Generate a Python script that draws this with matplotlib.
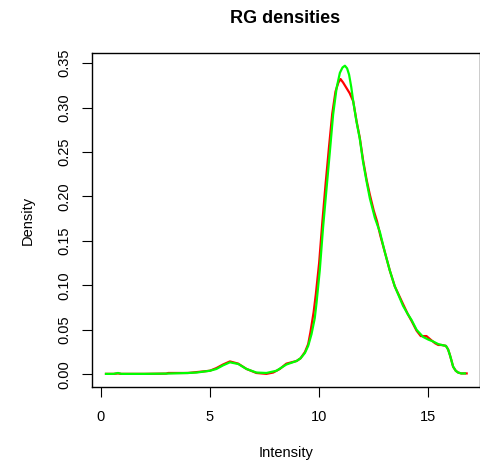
import matplotlib
matplotlib.use("Agg")
import matplotlib.pyplot as plt

plt.rcParams['font.family'] = ['Liberation Sans', 'DejaVu Sans']

# Green density (drawn on top)
green_x = [0.25, 0.6, 0.8, 0.95, 1.2, 2.0, 3.0, 4.0, 4.4, 5.0, 5.3, 5.6, 5.92, 6.3, 6.68,
           7.13, 7.59, 8.05, 8.5, 8.97, 9.15, 9.35, 9.5, 9.65, 9.8, 9.88, 10.03, 10.18,
           10.34, 10.49, 10.64, 10.8, 10.95, 11.07, 11.18, 11.28, 11.37, 11.47, 11.56,
           11.71, 11.86, 12.01, 12.17, 12.32, 12.55, 12.78, 13.0, 13.23, 13.46, 13.65,
           13.84, 14.05, 14.23, 14.46, 14.76, 15.0, 15.21, 15.45, 15.6, 15.8, 15.9,
           15.98, 16.06, 16.13, 16.25, 16.36, 16.5, 16.67]
green_y = [0.0005, 0.0005, 0.0015, 0.0005, 0.0005, 0.0005, 0.0008, 0.0015, 0.002, 0.004,
           0.006, 0.010, 0.0135, 0.0116, 0.006, 0.002, 0.0015, 0.004, 0.011, 0.015,
           0.018, 0.024, 0.032, 0.045, 0.063, 0.080, 0.117, 0.165, 0.209, 0.250, 0.292,
           0.322, 0.339, 0.345, 0.347, 0.344, 0.337, 0.323, 0.307, 0.284, 0.265, 0.239,
           0.217, 0.198, 0.176, 0.160, 0.138, 0.117, 0.099, 0.088, 0.077, 0.068, 0.061,
           0.050, 0.042, 0.039, 0.037, 0.034, 0.033, 0.032, 0.028, 0.022, 0.015, 0.0086,
           0.004, 0.002, 0.001, 0.001]

# Red density
red_x = [0.25, 0.6, 0.8, 0.95, 1.2, 2.0, 3.0, 3.1, 4.0, 4.4, 5.0, 5.3, 5.6, 5.92, 6.3,
         6.68, 7.13, 7.59, 7.9, 8.2, 8.5, 8.97, 9.15, 9.35, 9.5, 9.6, 9.75, 9.85, 10.0,
         10.15, 10.3, 10.45, 10.6, 10.75, 10.88, 10.98, 11.1, 11.25, 11.4, 11.56, 11.71,
         11.86, 12.01, 12.17, 12.32, 12.5, 12.65, 12.8, 13.0, 13.23, 13.46, 13.65, 13.84,
         14.05, 14.23, 14.46, 14.65, 14.91, 15.1, 15.3, 15.45, 15.6, 15.8, 15.9, 15.98,
         16.06, 16.13, 16.25, 16.36, 16.5, 16.75]
red_y = [0.0005, 0.0005, 0.001, 0.0005, 0.0005, 0.0005, 0.0008, 0.0015, 0.0015, 0.0025,
         0.004, 0.007, 0.011, 0.0145, 0.012, 0.006, 0.0015, 0.0005, 0.002, 0.006, 0.012,
         0.015, 0.018, 0.025, 0.034, 0.047, 0.070, 0.090, 0.125, 0.172, 0.215, 0.255,
         0.293, 0.318, 0.328, 0.332, 0.328, 0.322, 0.316, 0.307, 0.285, 0.266, 0.241,
         0.219, 0.202, 0.184, 0.172, 0.156, 0.138, 0.117, 0.099, 0.089, 0.079, 0.068,
         0.060, 0.049, 0.043, 0.043, 0.039, 0.035, 0.033, 0.033, 0.032, 0.028, 0.022,
         0.015, 0.0086, 0.004, 0.002, 0.001, 0.001]

x_ticks = [0, 5, 10, 15]
y_ticks = [0.00, 0.05, 0.10, 0.15, 0.20, 0.25, 0.30, 0.35]
y_ticklabels = ["0.00", "0.05", "0.10", "0.15", "0.20", "0.25", "0.30", "0.35"]

W, H = 481, 461
fig = plt.figure(figsize=(W / 100, H / 100), dpi=100)
L, R, T, B = 92, 480, 53, 386.5
ax = fig.add_axes([L / W, 1 - B / H, (R - L) / W, (B - T) / H])

ax.plot(red_x, red_y, color='#ff0000', lw=1.6, solid_joinstyle='round')
ax.plot(green_x, green_y, color='#00ff00', lw=1.6, solid_joinstyle='round')

ax.set_xlim(-0.39, 17.36)
ax.set_ylim(-0.0137, 0.3613)
ax.set_xticks(x_ticks)
ax.set_xticklabels([str(v) for v in x_ticks])
ax.set_yticks(y_ticks)
ax.set_yticklabels(y_ticklabels, rotation=90, va='center')
ax.tick_params(axis='both', direction='out', length=7, width=0.8, labelsize=10.5, colors='black')
ax.tick_params(axis='x', pad=10)
ax.tick_params(axis='y', pad=8)
for s in ax.spines.values():
    s.set_linewidth(1.0)
    s.set_color('black')

fig.text(284.7 / W, 1 - 22.7 / H, "RG densities", ha='center', va='baseline',
         fontsize=13, fontweight='bold')
fig.text(286 / W, 1 - 453 / H, "Intensity", ha='center', va='center', fontsize=10.5)
fig.text(28 / W, 1 - 220 / H, "Density", ha='center', va='center', fontsize=10.5, rotation=90)

fig.savefig("out.png", dpi=100)
